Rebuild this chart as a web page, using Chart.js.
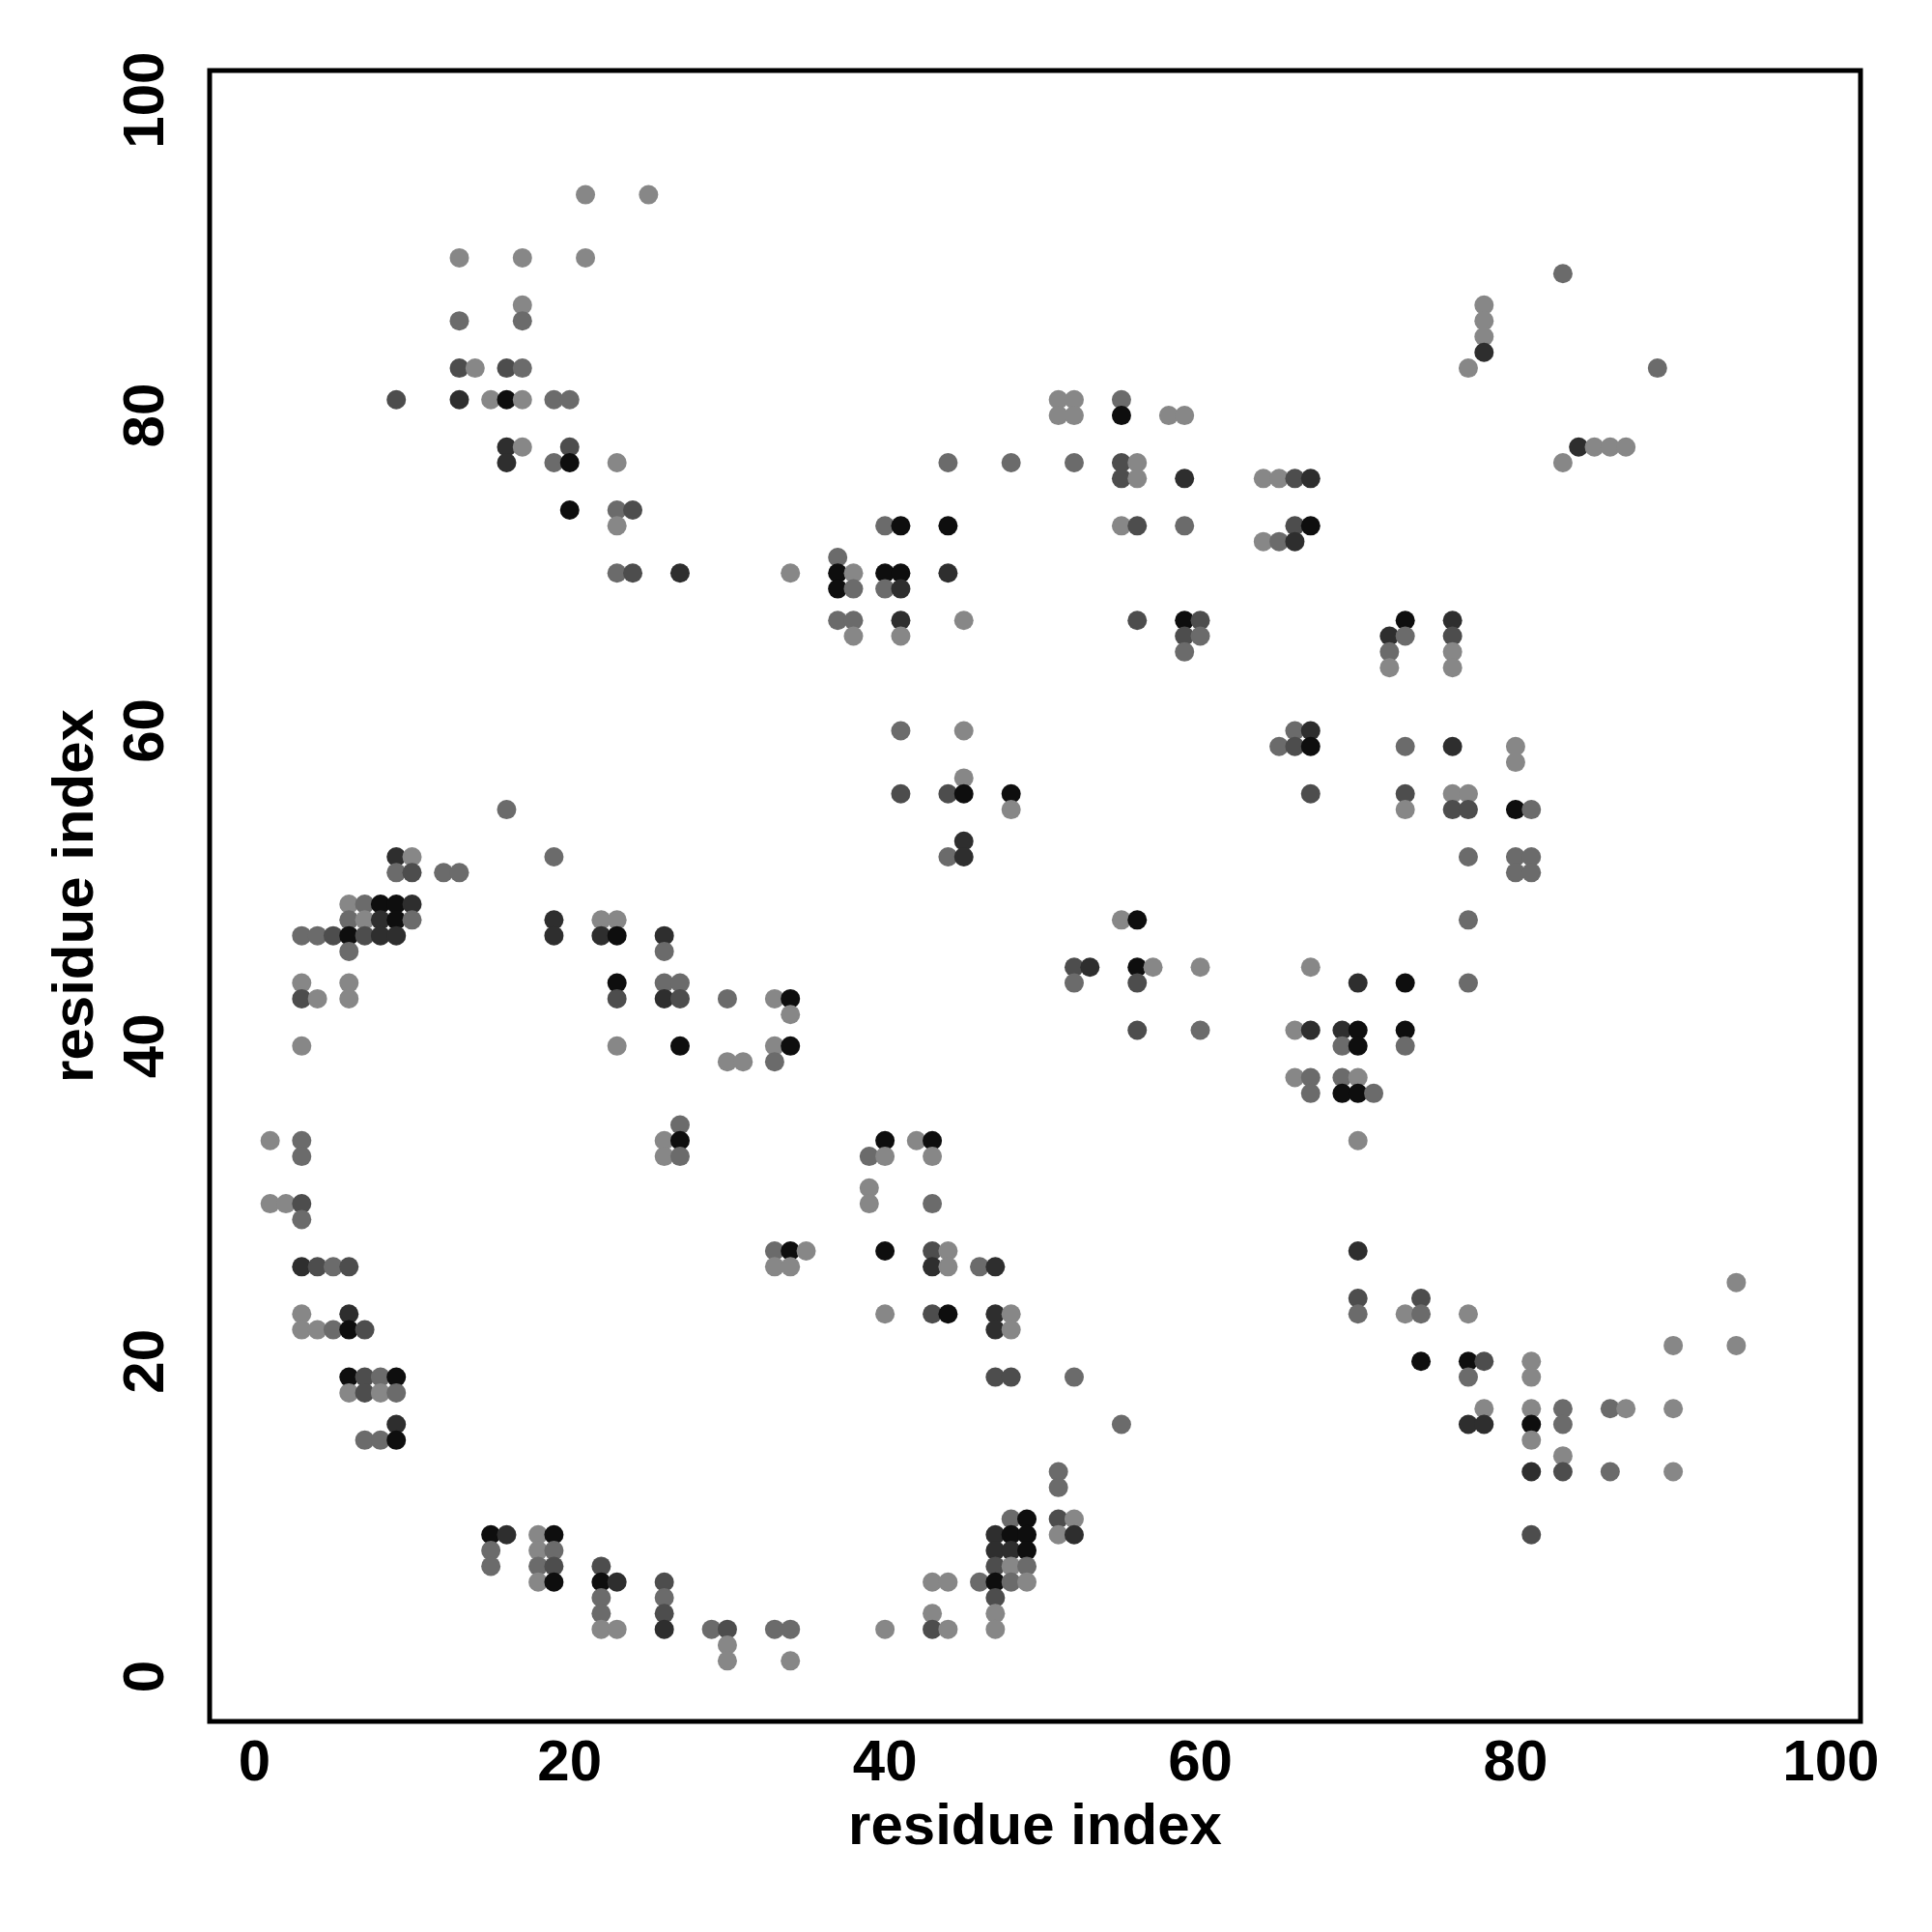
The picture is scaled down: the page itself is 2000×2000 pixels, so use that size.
<!DOCTYPE html>
<html>
<head>
<meta charset="utf-8">
<title>residue contact map</title>
<script src="https://cdn.jsdelivr.net/npm/chart.js@4.4.1/dist/chart.umd.min.js"></script>
<style>
  html, body { margin: 0; padding: 0; background: #ffffff; }
  #chart { display: block; }
</style>
</head>
<body>
<canvas id="chart" width="2000" height="2000"></canvas>
<script>
// contact map: residue i (x), residue j (y), strength level 1 (weak, light) .. 5 (strong, black)
const contactI = [
    21, 25, 13, 17, 21, 17, 13, 17, 13, 14, 16, 17,
    9, 13, 15, 16, 17, 19, 20, 16, 17, 20, 16, 19, 20, 23, 20, 23, 24, 23,
    51, 52, 55, 51, 52, 55, 58, 59, 44, 48, 52, 55, 56,
    55, 56, 59, 64, 65, 66, 67, 40, 41, 44, 55, 56, 59, 66, 67, 64, 65, 66,
    83, 78, 78, 78, 78, 77, 89, 84, 85, 86, 87, 83,
    23, 24, 27, 16, 9, 10, 19, 9, 10, 12, 13,
    6, 7, 8, 9, 10, 6, 7, 8, 9, 10, 19, 22, 23,
    3, 4, 5, 6, 7, 8, 9, 19, 22, 23, 26, 6, 26,
    37, 34, 37, 38, 40, 41, 44, 37, 38, 40, 41,
    37, 38, 41, 45, 56, 59, 60, 38, 41, 59, 60, 59,
    41, 45, 66, 67, 65, 66, 67, 45, 41, 44, 45, 48, 67, 48, 45, 44, 45, 55, 56,
    73, 76, 72, 73, 76, 72, 76, 72, 76, 73, 76, 80, 80,
    73, 76, 77, 73, 76, 77, 80, 81, 77, 80, 81, 80, 81, 77,
    3, 6, 23, 26, 27, 3, 4, 6, 23, 26, 27, 30, 3, 23, 27, 30, 31, 27,
    1, 3, 26, 27, 3, 26, 27, 1, 2, 3, 3, 3, 4, 5, 6, 3, 6, 3, 4, 5, 6, 7,
    52, 53, 56, 57, 60, 67, 52, 56, 33, 34, 34, 56, 60, 66, 33, 34, 33, 66,
    40, 42, 43, 39, 40, 43, 39, 39, 43,
    33, 34, 35, 40, 43, 44, 33, 34, 43, 44, 46, 47, 40, 43, 44, 47, 48, 47, 48,
    70, 73, 77, 67, 69, 70, 73, 69, 70, 73, 67, 69, 70, 67, 69, 70, 71, 70, 70,
    94, 70, 74, 70, 73, 74, 77,
    6, 7, 8, 9, 6, 7, 8, 9, 9, 7, 8, 9,
    15, 16, 18, 19, 15, 18, 19, 15, 18, 19, 22, 18, 19, 22, 23, 26,
    22, 26, 22, 26, 22, 23, 26, 29, 30, 30, 30,
    47, 48, 52, 55, 51, 51, 48, 49, 51, 52, 47, 48, 49, 51, 52, 47, 48, 49,
    47, 48, 49, 43, 44, 46, 47, 48, 49, 47, 43, 47, 33, 34, 40, 43, 44, 47, 34,
    74, 77, 78, 81, 77, 81, 78, 81, 83, 86, 87, 90, 77, 78, 81, 83,
    81, 83, 81, 83, 86, 90, 81, 90, 94
];
const contactJ = [
    94, 94, 90, 90, 90, 87, 86, 86, 83, 83, 83, 83,
    81, 81, 81, 81, 81, 81, 81, 78, 78, 78, 77, 77, 77, 77, 74, 74, 74, 73,
    81, 81, 81, 80, 80, 80, 80, 80, 77, 77, 77, 77, 77,
    76, 76, 76, 76, 76, 76, 76, 73, 73, 73, 73, 73, 73, 73, 73, 72, 72, 72,
    89, 87, 86, 85, 84, 83, 83, 78, 78, 78, 78, 77,
    70, 70, 70, 55, 52, 52, 52, 51, 51, 51, 51,
    49, 49, 49, 49, 49, 48, 48, 48, 48, 48, 48, 48, 48,
    47, 47, 47, 47, 47, 47, 47, 47, 47, 47, 47, 46, 46,
    71, 70, 70, 70, 70, 70, 70, 69, 69, 69, 69,
    67, 67, 67, 67, 67, 67, 67, 66, 66, 66, 66, 65,
    60, 60, 60, 60, 59, 59, 59, 57, 56, 56, 56, 56, 56, 55, 53, 52, 52, 48, 48,
    67, 67, 66, 66, 66, 65, 65, 64, 64, 59, 59, 59, 58,
    56, 56, 56, 55, 55, 55, 55, 55, 52, 52, 52, 51, 51, 48,
    44, 44, 44, 44, 44, 43, 43, 43, 43, 43, 43, 43, 40, 40, 40, 39, 39, 35,
    34, 34, 34, 34, 33, 33, 33, 30, 30, 30, 29, 26, 26, 26, 26, 23, 23, 22, 22, 22, 22, 22,
    45, 45, 45, 45, 45, 45, 44, 44, 43, 43, 42, 41, 41, 41, 40, 40, 39, 38,
    34, 34, 34, 33, 33, 33, 31, 30, 30,
    27, 27, 27, 27, 27, 27, 26, 26, 26, 26, 26, 26, 23, 23, 23, 23, 23, 22, 22,
    44, 44, 44, 41, 41, 41, 41, 40, 40, 40, 38, 38, 38, 37, 37, 37, 37, 34, 27,
    25, 24, 24, 23, 23, 23, 23,
    19, 19, 19, 19, 18, 18, 18, 18, 16, 15, 15, 15,
    9, 9, 9, 9, 8, 8, 8, 7, 7, 7, 7, 6, 6, 6, 6, 6,
    5, 5, 4, 4, 3, 3, 3, 3, 3, 2, 1,
    19, 19, 19, 16, 13, 12, 10, 10, 10, 10, 9, 9, 9, 9, 9, 8, 8, 8,
    7, 7, 7, 6, 6, 6, 6, 6, 6, 5, 4, 4, 3, 3, 3, 3, 3, 3, 1,
    20, 20, 20, 20, 19, 19, 17, 17, 17, 17, 17, 17, 16, 16, 16, 16,
    15, 14, 13, 13, 13, 13, 9, 21, 21
];
const contactLevel = [
    1, 1, 1, 1, 1, 1, 2, 2, 3, 1, 3, 2,
    3, 4, 1, 5, 1, 2, 2, 4, 1, 3, 4, 2, 5, 1, 5, 2, 3, 1,
    1, 1, 2, 1, 1, 5, 1, 1, 2, 2, 2, 3, 1,
    3, 1, 4, 1, 1, 3, 4, 2, 5, 5, 1, 3, 2, 3, 5, 1, 2, 4,
    2, 1, 1, 1, 4, 1, 2, 4, 1, 1, 1, 1,
    2, 3, 4, 2, 4, 1, 2, 2, 3, 2, 2,
    1, 2, 5, 5, 4, 2, 1, 4, 5, 2, 4, 1, 1,
    2, 2, 3, 5, 3, 4, 4, 4, 4, 5, 4, 2, 2,
    2, 1, 5, 1, 5, 5, 4, 5, 2, 2, 4,
    2, 2, 4, 1, 3, 5, 3, 1, 1, 3, 2, 2,
    2, 1, 2, 4, 2, 3, 5, 1, 3, 3, 5, 5, 3, 1, 4, 2, 4, 1, 5,
    5, 4, 4, 2, 3, 2, 1, 1, 1, 2, 4, 1, 1,
    3, 1, 1, 1, 3, 3, 5, 2, 2, 2, 2, 2, 2, 2,
    1, 1, 5, 2, 2, 3, 1, 1, 3, 4, 3, 2, 1, 1, 5, 1, 1, 2,
    1, 2, 1, 5, 2, 1, 2, 1, 1, 3, 2, 4, 3, 2, 3, 1, 4, 1, 1, 2, 5, 3,
    3, 4, 5, 1, 1, 1, 2, 3, 1, 5, 1, 3, 2, 1, 1, 5, 2, 1,
    5, 1, 5, 2, 1, 1, 1, 1, 2,
    2, 5, 1, 5, 3, 1, 1, 1, 4, 1, 2, 4, 1, 3, 5, 4, 1, 4, 1,
    4, 5, 2, 4, 4, 5, 5, 2, 5, 2, 2, 2, 1, 2, 5, 5, 2, 1, 4,
    1, 3, 3, 2, 1, 2, 1,
    5, 3, 2, 5, 1, 3, 1, 2, 4, 2, 2, 5,
    5, 4, 1, 5, 2, 1, 2, 2, 2, 3, 3, 1, 5, 5, 4, 3,
    2, 2, 2, 3, 1, 1, 4, 2, 3, 1, 1,
    3, 3, 2, 2, 2, 2, 2, 5, 3, 1, 4, 5, 5, 1, 4, 4, 4, 5,
    3, 1, 2, 1, 1, 2, 5, 2, 1, 3, 1, 1, 2, 2, 1, 3, 1, 1, 1,
    5, 5, 3, 1, 2, 1, 1, 1, 2, 2, 1, 1, 4, 4, 5, 2,
    1, 1, 4, 3, 2, 1, 3, 1, 1
];
const tickValues = [0, 20, 40, 60, 80, 100];
const axisLabel = "residue index";

const levelColors = ["#878787", "#6b6b6b", "#4d4d4d", "#2e2e2e", "#0e0e0e"];

document.addEventListener("DOMContentLoaded", function () {
    const points = contactI.map((x, k) => ({ x: x, y: contactJ[k] }));
    const colors = contactLevel.map(l => levelColors[l - 1]);

    const font = { family: "'Liberation Sans', Arial, sans-serif", size: 60, weight: "bold" };

    // frame round the plot region
    const boxPlugin = {
        id: "plotBox",
        afterDatasetsDraw(chart) {
            const a = chart.chartArea;
            const ctx = chart.ctx;
            ctx.save();
            ctx.strokeStyle = "#000";
            ctx.lineWidth = 5;
            ctx.strokeRect(a.left, a.top, a.right - a.left, a.bottom - a.top);
            ctx.restore();
        }
    };

    Chart.defaults.color = "#000";

    new Chart(document.getElementById("chart").getContext("2d"), {
        type: "scatter",
        data: {
            datasets: [{
                data: points,
                pointBackgroundColor: colors,
                pointBorderWidth: 0,
                pointRadius: 10,
                pointHoverRadius: 10
            }]
        },
        options: {
            responsive: false,
            animation: false,
            devicePixelRatio: 1,
            layout: { padding: { top: 73, right: 74, left: 0, bottom: 0 } },
            plugins: { legend: { display: false }, tooltip: { enabled: false } },
            scales: {
                x: {
                    type: "linear",
                    min: -2.84,
                    max: 101.88,
                    afterBuildTicks: s => { s.ticks = tickValues.map(v => ({ value: v })); },
                    afterFit: s => { s.height = 218; },
                    grid: { display: false },
                    border: { display: false },
                    ticks: { font: font, padding: 0, maxRotation: 0 },
                    title: { display: true, text: axisLabel, font: font, padding: { top: 0, bottom: 72 } }
                },
                y: {
                    type: "linear",
                    min: -2.84,
                    max: 101.88,
                    afterBuildTicks: s => { s.ticks = tickValues.map(v => ({ value: v })); },
                    afterFit: s => { s.width = 217; },
                    grid: { display: false },
                    border: { display: false },
                    ticks: { font: font, padding: 6, minRotation: 90, maxRotation: 90, crossAlign: "center" },
                    title: { display: true, text: axisLabel, font: font, padding: { top: 43, bottom: 0 } }
                }
            }
        },
        plugins: [boxPlugin]
    });
});
</script>
</body>
</html>
